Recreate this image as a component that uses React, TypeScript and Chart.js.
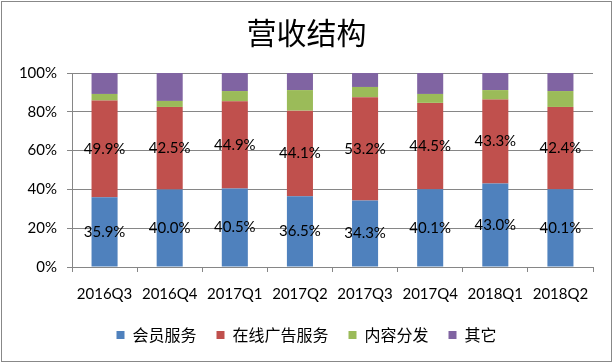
import React, { useEffect, useRef } from "react";
import { Chart, registerables } from "chart.js";

Chart.register(...registerables);

const categories = ["2016Q3", "2016Q4", "2017Q1", "2017Q2", "2017Q3", "2017Q4", "2018Q1", "2018Q2"];
const memberValues = [35.9, 40.0, 40.5, 36.5, 34.3, 40.1, 43.0, 40.1];
const adValues = [49.9, 42.5, 44.9, 44.1, 53.2, 44.5, 43.3, 42.4];
const contentValues = [3.4, 3.1, 5.3, 10.6, 5.3, 4.6, 4.9, 8.2];
const otherValues = [10.8, 14.4, 9.3, 8.8, 7.2, 10.8, 8.8, 9.3];
const seriesNames = ["会员服务", "在线广告服务", "内容分发", "其它"];
const yTicks = [0, 20, 40, 60, 80, 100];

const COLORS = ["#4F81BD", "#C0504D", "#9BBB59", "#8064A2"];
const GRID = "#868686";
const LATIN = "Lato, 'Noto Sans CJK SC', sans-serif";
const CJK = "'Noto Sans CJK SC', sans-serif";

const framePlugin = {
  id: "frame",
  beforeDraw(chart: any) {
    const ctx = chart.ctx;
    ctx.save();
    ctx.fillStyle = "#ffffff";
    ctx.fillRect(0, 0, chart.width, chart.height);
    ctx.strokeStyle = "#888888";
    ctx.lineWidth = 1;
    ctx.strokeRect(1.5, 1.5, chart.width - 3, chart.height - 3);
    ctx.restore();
  },
};

const labelPlugin = {
  id: "segLabels",
  afterDatasetsDraw(chart: any) {
    const ctx = chart.ctx;
    ctx.save();
    ctx.font = `15px ${LATIN}`;
    ctx.fillStyle = "#000000";
    ctx.textAlign = "center";
    ctx.textBaseline = "middle";
    [0, 1].forEach((di) => {
      const meta = chart.getDatasetMeta(di);
      const data = chart.data.datasets[di].data as number[];
      meta.data.forEach((el: any, i: number) => {
        const { x, y, base } = el.getProps(["x", "y", "base"], true);
        ctx.fillText(`${data[i].toFixed(1)}%`, x, (y + base) / 2);
      });
    });
    ctx.restore();
  },
};

export default function App() {
  const ref = useRef<HTMLCanvasElement | null>(null);
  useEffect(() => {
    document.body.style.margin = "0";
    if (!ref.current) return;
    const values = [memberValues, adValues, contentValues, otherValues];
    const chart = new Chart(ref.current, {
      type: "bar",
      data: {
        labels: categories,
        datasets: seriesNames.map((name, i) => ({
          label: name,
          data: values[i],
          backgroundColor: COLORS[i],
          borderWidth: 0,
          barPercentage: 0.4,
          categoryPercentage: 1,
        })),
      },
      options: {
        responsive: false,
        animation: false,
        devicePixelRatio: 1,
        layout: { padding: { left: 0, right: 0, top: 0, bottom: 10 } },
        plugins: {
          tooltip: { enabled: false },
          title: {
            display: true,
            text: "营收结构",
            color: "#000000",
            font: { family: CJK, size: 30, weight: "normal" },
            padding: { top: 15, bottom: 22 },
          },
          legend: {
            position: "bottom",
            labels: {
              boxWidth: 8,
              boxHeight: 8,
              padding: 20,
              color: "#000000",
              font: { family: CJK, size: 16 },
            },
          },
        },
        scales: {
          x: {
            stacked: true,
            afterFit(axis: any) {
              axis.height = 40;
            },
            grid: {
              offset: true,
              drawOnChartArea: false,
              drawTicks: true,
              tickLength: 5,
              color: GRID,
            },
            border: { color: GRID },
            ticks: {
              color: "#000000",
              padding: 13,
              maxRotation: 0,
              font: { family: LATIN, size: 15 },
            },
          },
          y: {
            stacked: true,
            min: 0,
            max: 100,
            afterFit(axis: any) {
              axis.width = 72;
            },
            afterBuildTicks(axis: any) {
              axis.ticks = yTicks.map((v) => ({ value: v }));
            },
            grid: { color: GRID, tickLength: 5 },
            border: { color: GRID },
            ticks: {
              color: "#000000",
              padding: 10,
              font: { family: LATIN, size: 15 },
              callback: (v: any) => `${v}%`,
            },
          },
          spacer: {
            type: "linear",
            position: "right",
            display: true,
            min: 0,
            max: 100,
            grid: { display: false, drawTicks: false },
            border: { display: false },
            ticks: { display: false },
            afterFit(axis: any) {
              axis.width = 20;
            },
          },
        },
      },
      plugins: [framePlugin, labelPlugin],
    });
    return () => chart.destroy();
  }, []);
  return (
    <div style={{ position: "absolute", left: 0, top: 0, width: 613, height: 363 }}>
      <canvas ref={ref} width={613} height={363} />
    </div>
  );
}
